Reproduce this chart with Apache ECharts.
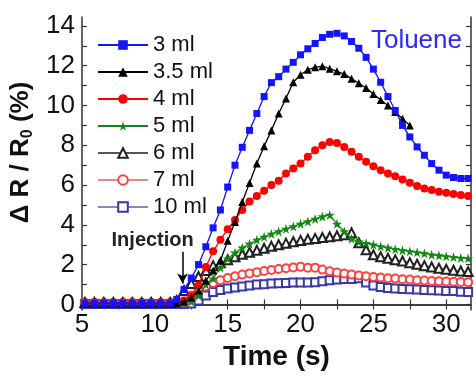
<!DOCTYPE html>
<html>
<head>
<meta charset="utf-8">
<script src="https://cdn.jsdelivr.net/npm/echarts@6/dist/echarts.min.js"></script>
<style>html,body{margin:0;padding:0;background:#fff;}#c{width:476px;height:377px;}</style>
</head>
<body>
<div id="c"></div>
<script>
// time stamps (s)
const times = [5.2,5.85,6.5,7.15,7.8,8.45,9.1,9.75,10.4,11.05,
  11.5,12,12.5,13,13.5,14,14.5,15,15.5,16,16.5,17,17.5,18,18.5,19,19.5,20,20.5,21,21.5,22,22.5,23,23.5,24,24.5,25,25.5,26,26.5,27,27.5,28,28.5,29,29.5,30,30.5,31,31.5];
const seriesNames = ['3 ml','3.5 ml','4 ml','5 ml','6 ml','7 ml','10 ml'];
// ΔR/R0 (%) values
const v3 = [0.05,0.05,0.05,0.05,0.05,0.05,0.05,0.05,0.05,0.05,
  0.25,0.75,1.33,2.0,2.9,3.85,4.75,5.9,7.0,7.9,8.75,9.6,10.45,11.15,11.45,11.83,12.17,12.55,12.85,13.12,13.42,13.58,13.63,13.5,13.22,12.88,12.42,11.83,11.17,10.45,9.75,9.0,8.42,7.92,7.5,7.08,6.75,6.5,6.38,6.33,6.33];
const v35 = [0.05,0.05,0.05,0.05,0.05,0.05,0.05,0.05,0.05,0.05,
  0.05,0.15,0.35,0.7,1.2,1.7,2.2,3.2,4.15,5.15,6.1,7.08,7.95,8.75,9.6,10.35,11.17,11.55,11.8,11.92,11.98,11.85,11.72,11.58,11.35,11.12,10.88,10.58,10.28,10.0,9.67,9.33,9.0,null,null,null,null,null,null,null,null];
const v4 = [0.08,0.08,0.08,0.08,0.08,0.08,0.08,0.08,0.08,0.08,
  0.08,0.2,0.42,0.95,1.88,2.67,3.25,3.78,4.25,4.75,5.17,5.45,5.72,6.0,6.22,6.58,6.83,7.08,7.42,7.75,8.0,8.17,8.12,7.92,7.67,7.42,7.17,6.95,6.75,6.58,6.45,6.28,6.12,5.95,5.83,5.75,5.67,5.62,5.55,5.5,5.45];
const v5 = [0.05,0.05,0.05,0.05,0.05,0.05,0.05,0.05,0.05,0.05,
  0.05,0.05,0.15,0.45,1.0,1.3,1.85,2.3,2.6,2.85,3.05,3.25,3.4,3.55,3.67,3.8,3.92,4.05,4.17,4.3,4.42,4.5,4.05,3.67,3.3,3.15,3.08,3.0,2.92,2.85,2.78,2.72,2.67,2.62,2.57,2.5,2.46,2.42,2.38,2.34,2.32];
const v6 = [0.1,0.1,0.1,0.1,0.1,0.1,0.1,0.1,0.1,0.1,
  0.2,0.7,1.05,1.4,1.7,1.95,2.1,2.25,2.4,2.52,2.62,2.72,2.82,2.92,3.0,3.08,3.15,3.22,3.28,3.32,3.36,3.4,3.45,3.5,3.6,3.1,2.75,2.5,2.4,2.32,2.25,2.18,2.1,2.02,1.95,1.88,1.82,1.77,1.72,1.68,1.65];
const v7 = [0.08,0.08,0.08,0.08,0.08,0.08,0.08,0.08,0.08,0.08,
  0.08,0.1,0.45,0.72,0.9,1.08,1.22,1.33,1.42,1.5,1.56,1.62,1.68,1.73,1.78,1.82,1.86,1.9,1.85,1.85,1.75,1.67,1.6,1.55,1.5,1.46,1.42,1.38,1.35,1.32,1.3,1.27,1.25,1.22,1.2,1.18,1.17,1.15,1.14,1.13,1.12];
const v10 = [0.02,0.02,0.02,0.02,0.02,0.02,0.02,0.02,0.02,0.02,
  0.02,0.02,0.05,0.2,0.45,0.62,0.72,0.8,0.85,0.9,0.95,1.0,1.02,1.05,1.07,1.08,1.1,1.1,1.1,1.12,1.17,1.22,1.25,1.28,1.28,1.32,1.1,0.95,0.88,0.83,0.8,0.78,0.76,0.75,0.73,0.71,0.7,0.68,0.67,0.64,0.62];
const xLabels = [5,10,15,20,25,30];
const xTicks = [5,7.5,10,12.5,15,17.5,20,22.5,25,27.5,30];
const yLabels = [0,2,4,6,8,10,12,14];
const yTicks = [0,1,2,3,4,5,6,7,8,9,10,11,12,13,14];
const injectionTime = 11.9;

const starPath = 'path://M50,0 L61,35 L98,35 L68,57 L79,91 L50,70 L21,91 L32,57 L2,35 L39,35 Z';
function pairs(vals){ return times.map((t,i)=>[t, vals[i]]); }

const FONT = 'Liberation Sans, Arial, sans-serif';
const chart = echarts.init(document.getElementById('c'), null, {renderer:'canvas'});

const styles = [
  {vals:v3,  symbol:'rect',          size:7, color:'#1414ff', line:'#1414ff', lw:1.3},
  {vals:v35, symbol:'triangle',      size:8, color:'#000000', line:'#000000', lw:1.3},
  {vals:v4,  symbol:'circle',        size:8, color:'#ff0000', line:'#ff0000', lw:1.3},
  {vals:v5,  symbol:starPath,        size:10, color:'#118811', line:'#118811', lw:1.3},
  {vals:v6,  symbol:'emptyTriangle', size:9, color:'#222222', line:'#555555', lw:1},
  {vals:v7,  symbol:'emptyCircle',   size:8, color:'#ff4040', line:'#e88888', lw:1},
  {vals:v10, symbol:'emptyRect',     size:8, color:'#3838a8', line:'#8888c0', lw:1}
];

const series = styles.map((s,i)=>({
  name: seriesNames[i],
  type:'line',
  data: pairs(s.vals),
  symbol: s.symbol,
  symbolSize: s.size,
  showAllSymbol: true,
  connectNulls: false,
  itemStyle:{color:s.color, borderWidth:1.2},
  lineStyle:{color:s.line, width:s.lw},
  z: 10 - i,
  animation:false
}));

series[4].markLine = {
  silent:true, symbol:['none','arrow'], symbolSize:[8,10],
  lineStyle:{color:'#000', width:1.5, type:'solid'},
  label:{show:false},
  data:[[{coord:[injectionTime,2.65]},{coord:[injectionTime,1.05]}]],
  animation:false
};
series[4].markPoint = {
  silent:true, symbol:'circle', symbolSize:0,
  label:{show:true, formatter:'Injection', color:'#222', fontWeight:'bold', fontSize:20, fontFamily:FONT, position:'inside'},
  data:[{coord:[9.85,3.2]}],
  animation:false
};

const axisLineStyle = {color:'#333', width:1.5};

chart.setOption({
  animation:false,
  backgroundColor:'#fff',
  title:{text:'Toluene', right:9, top:23, textStyle:{color:'#2a2aff', fontSize:26, fontWeight:'normal', fontFamily:FONT}},
  legend:{
    orient:'vertical', left:92, top:29, itemWidth:50, itemHeight:12, itemGap:5,
    data: seriesNames,
    textStyle:{fontSize:22, color:'#111', fontFamily:FONT}
  },
  grid:{left:82, right:5, top:17, bottom:67},
  xAxis:[{
    type:'value', min:5, max:31.7, position:'bottom',
    name:'Time (s)', nameLocation:'middle', nameGap:22,
    nameTextStyle:{fontSize:28, fontWeight:'bold', color:'#111', fontFamily:FONT},
    axisLine:{show:true, lineStyle:axisLineStyle},
    axisTick:{show:true, inside:true, length:5, customValues:xTicks, lineStyle:{color:'#333', width:1.2}},
    axisLabel:{customValues:xLabels, fontSize:26, color:'#111', margin:2, fontFamily:FONT},
    splitLine:{show:false}
  },{
    type:'value', min:5, max:31.7, position:'top',
    axisLine:{show:true, lineStyle:axisLineStyle},
    axisTick:{show:true, inside:true, length:5, customValues:xTicks, lineStyle:{color:'#333', width:1.2}},
    axisLabel:{show:false}, splitLine:{show:false}
  }],
  yAxis:[{
    type:'value', min:-0.28, max:14.45, position:'left',
    name:'{a|Δ R / R}{s|0}{a| (%)}', nameLocation:'middle', nameGap:46,
    nameTextStyle:{fontSize:26, fontWeight:'bold', color:'#111', fontFamily:FONT, padding:[0,0,0,22],
      rich:{a:{fontSize:26, fontWeight:'bold', color:'#111', fontFamily:FONT},
            s:{fontSize:16, fontWeight:'bold', color:'#111', fontFamily:FONT, padding:[12,0,0,0]}}},
    axisLine:{show:true, lineStyle:axisLineStyle},
    axisTick:{show:true, inside:true, length:5, customValues:yTicks, lineStyle:{color:'#333', width:1.2}},
    axisLabel:{customValues:yLabels, fontSize:26, color:'#111', margin:7, fontFamily:FONT},
    splitLine:{show:false}
  },{
    type:'value', min:-0.28, max:14.45, position:'right',
    axisLine:{show:true, lineStyle:axisLineStyle},
    axisTick:{show:true, inside:true, length:5, customValues:yTicks, lineStyle:{color:'#333', width:1.2}},
    axisLabel:{show:false}, splitLine:{show:false}
  }],
  series: series
});
</script>
</body>
</html>
